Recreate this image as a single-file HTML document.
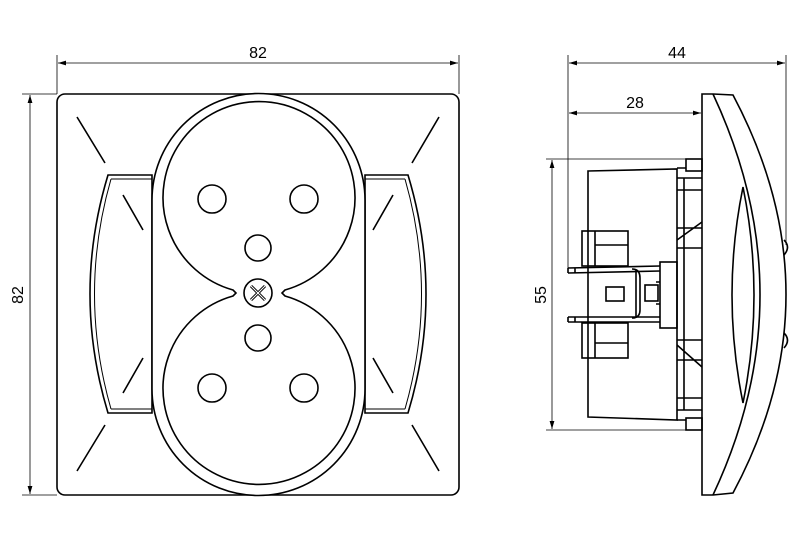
<!DOCTYPE html>
<html><head><meta charset="utf-8"><style>
html,body{margin:0;padding:0;background:#fff;}
svg{display:block}
text{font-family:"Liberation Sans",sans-serif;font-size:16px;fill:#000}
</style></head><body>
<svg width="800" height="549" viewBox="0 0 800 549" xmlns="http://www.w3.org/2000/svg">
<defs>
<marker id="a" viewBox="0 0 10 6" refX="10" refY="3" markerWidth="10" markerHeight="6" orient="auto-start-reverse"><path d="M0,0 L10,3 L0,6 z" fill="#000"/></marker>
</defs>
<g fill="none" stroke="#000" stroke-width="0.8">
<line x1="57" y1="55" x2="57" y2="94"/><line x1="459" y1="55" x2="459" y2="94"/>
<line x1="58" y1="63" x2="458" y2="63" marker-start="url(#a)" marker-end="url(#a)"/>
<line x1="22" y1="94" x2="57" y2="94"/><line x1="22" y1="495" x2="57" y2="495"/>
<line x1="30" y1="95" x2="30" y2="494" marker-start="url(#a)" marker-end="url(#a)"/>
<line x1="568" y1="55" x2="568" y2="272"/><line x1="786" y1="55" x2="786" y2="245"/>
<line x1="569" y1="63" x2="785" y2="63" marker-start="url(#a)" marker-end="url(#a)"/>
<line x1="702" y1="105" x2="702" y2="94"/>
<line x1="569" y1="113" x2="701" y2="113" marker-start="url(#a)" marker-end="url(#a)"/>
<line x1="546" y1="159" x2="686" y2="159"/><line x1="546" y1="430" x2="686" y2="430"/>
<line x1="552" y1="160" x2="552" y2="429" marker-start="url(#a)" marker-end="url(#a)"/>
</g>
<text x="258" y="58" text-anchor="middle">82</text>
<text x="677" y="58" text-anchor="middle">44</text>
<text x="635" y="108" text-anchor="middle">28</text>
<text transform="translate(23,295) rotate(-90)" text-anchor="middle">82</text>
<text transform="translate(546,295) rotate(-90)" text-anchor="middle">55</text>

<g fill="none" stroke="#000" stroke-width="1.6">
<rect x="57" y="94" width="402" height="401" rx="8"/>
<path d="M108,175 L152,175 L152,413 L108,413 Q72,294 108,175 Z" fill="#fff"/>
<path d="M111,179 L152,179 M111,409 L152,409 M111,179 Q78,294 111,409" stroke-width="1"/>
<path d="M408,175 L365,175 L365,413 L408,413 Q444,294 408,175 Z" fill="#fff"/>
<path d="M405,179 L365,179 M405,409 L365,409 M405,179 Q438,294 405,409" stroke-width="1"/>
<path d="M152,200 A106.5,106.5 0 0 1 365,200 L365,389 A106.5,106.5 0 0 1 152,389 Z" fill="#fff"/>
<path d="M233,290 A96,96 0 1 1 285,290 L282,293 L285,296 A96,96 0 1 1 233,296 L236,293 Z"/>
<circle cx="258" cy="293" r="14"/>
<path d="M251,286 L265,300 M265,286 L251,300" stroke-width="3"/>
<path d="M251,286 L265,300 M265,286 L251,300" stroke="#fff" stroke-width="1"/>
<circle cx="212" cy="199" r="14"/><circle cx="304" cy="199" r="14"/>
<circle cx="258" cy="248" r="13"/><circle cx="258" cy="338" r="13"/>
<circle cx="212" cy="388" r="14"/><circle cx="304" cy="388" r="14"/>
<path d="M77,117 L105,163 M439,117 L412,163 M77,471 L105,425 M439,471 L412,425 M123,195 L143,230 M393,195 L373,230 M123,393 L143,358 M393,393 L373,358"/>
<!-- side faceplate -->
<path d="M702,94 L713,94 L733,95 Q839,295 733,493 L713,495 L702,495 Z" fill="#fff"/>
<path d="M713,94 Q807,295 713,495"/>
<path d="M743,187 Q721,295 743,403 Q765,295 743,187 Z"/>
<path d="M784,240 Q791,247 784,255 M784,333 Q791,340 784,348"/>
<!-- side body -->
<path d="M588,171 L677,169 L677,420 L588,417 Z"/>
<rect x="686" y="159" width="16" height="12"/><rect x="686" y="418" width="16" height="12"/>
<path d="M677,168 L686,168 M677,178 L702,178 M677,190 L702,190 M677,228 L702,228 M677,248 L702,248 M677,240 L702,222 M677,345 L702,367 M677,340 L702,340 M677,360 L702,360 M677,398 L702,398 M677,410 L702,410 M677,420 L686,420 M684,178 L684,410"/>
<rect x="582" y="231" width="46" height="35"/><rect x="582" y="323" width="46" height="35"/>
<path d="M595,231 L595,266 M595,323 L595,358 M595,245 L628,245 M595,343 L628,343"/>
<path d="M568,268 L660,266 M568,273 L660,271 M568,268 L568,273 M568,317 L660,317 M568,322 L660,322 M568,317 L568,322 M575,268 L575,273 M575,317 L575,322"/>
<rect x="660" y="262" width="17" height="66"/>
<path d="M632,269 Q640,269 640,278 L640,310 Q640,318 632,318 M636,270 L636,318"/>
<rect x="606" y="287" width="18" height="14"/><rect x="645" y="285" width="13" height="16"/>
<path d="M656,282 L660,282 M656,304 L660,304"/>
</g>
</svg>
</body></html>
